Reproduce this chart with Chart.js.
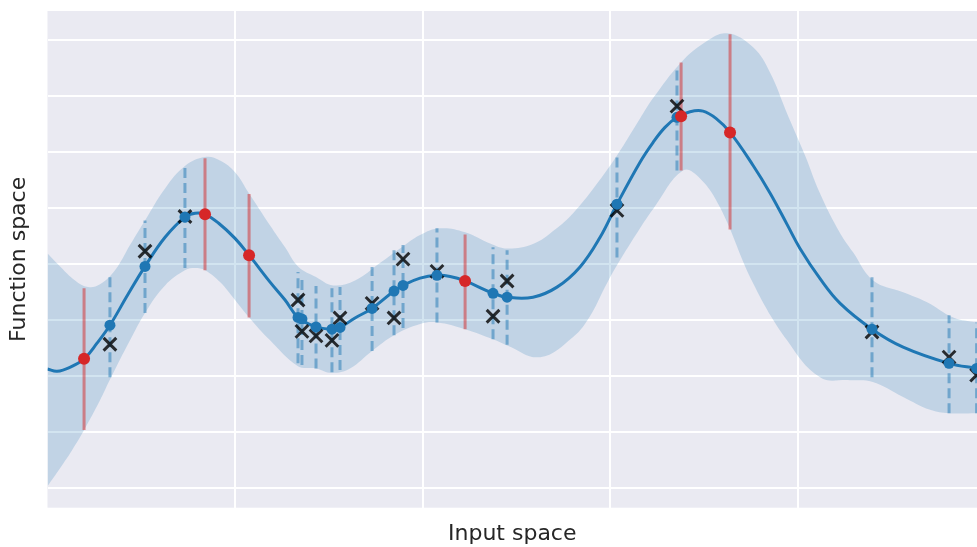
<!DOCTYPE html>
<html>
<head>
<meta charset="utf-8">
<script src="https://cdn.jsdelivr.net/npm/chart.js@4/dist/chart.umd.min.js"></script>
<style>
  html, body { margin: 0; padding: 0; background: #ffffff; }
  #gpChart { display: block; }
</style>
</head>
<body>
<canvas id="gpChart" width="977" height="547"></canvas>
<script>
const X_TICKS = [1, 2, 3, 4];
const Y_TICKS = [0, 1, 2, 3, 4, 5, 6, 7, 8];

// posterior mean
const meanX = [0, 0.051, 0.12, 0.195, 0.264, 0.333, 0.424, 0.52, 0.627, 0.733, 0.787, 0.84, 0.913, 1.0,
  1.075, 1.187, 1.267, 1.336, 1.432, 1.517, 1.56, 1.64, 1.731, 1.848, 1.896, 1.987, 2.077, 2.147, 2.227,
  2.376, 2.451, 2.589, 2.717, 2.84, 2.947, 3.037, 3.16, 3.229, 3.293, 3.357, 3.427, 3.496, 3.565, 3.64,
  3.763, 3.853, 3.944, 4.013, 4.12, 4.227, 4.397, 4.563, 4.808, 4.957];
const meanY = [2.13, 2.09, 2.16, 2.31, 2.59, 2.91, 3.43, 3.96, 4.48, 4.84, 4.91, 4.89, 4.73, 4.46,
  4.16, 3.68, 3.36, 3.05, 2.88, 2.84, 2.87, 3.04, 3.21, 3.52, 3.62, 3.75, 3.80, 3.78, 3.70,
  3.48, 3.41, 3.41, 3.59, 3.95, 4.48, 5.07, 5.82, 6.17, 6.44, 6.62, 6.72, 6.73, 6.60, 6.35,
  5.76, 5.27, 4.71, 4.28, 3.74, 3.30, 2.84, 2.52, 2.23, 2.14];

// confidence band (mean +/- 2 sigma)
const upperX = [0, 0.067, 0.147, 0.216, 0.28, 0.36, 0.44, 0.52, 0.627, 0.733, 0.84, 0.92, 1.0, 1.075,
  1.187, 1.267, 1.336, 1.432, 1.523, 1.64, 1.773, 1.88, 1.987, 2.093, 2.227, 2.36, 2.451, 2.589, 2.707,
  2.803, 2.92, 3.037, 3.16, 3.229, 3.379, 3.507, 3.624, 3.763, 3.853, 3.944, 4.04, 4.12, 4.227, 4.296,
  4.403, 4.563, 4.691, 4.83, 4.957];
const upperY = [4.19, 3.96, 3.71, 3.59, 3.64, 3.89, 4.34, 4.78, 5.35, 5.75, 5.91, 5.85, 5.64, 5.26,
  4.69, 4.30, 3.96, 3.77, 3.62, 3.71, 4.02, 4.28, 4.52, 4.64, 4.57, 4.37, 4.28, 4.36, 4.62,
  4.91, 5.39, 5.94, 6.60, 6.96, 7.60, 7.96, 8.12, 7.87, 7.42, 6.69, 5.94, 5.26, 4.55, 4.21,
  3.71, 3.50, 3.32, 3.05, 2.96];
const lowerX = [0, 0.067, 0.131, 0.195, 0.28, 0.333, 0.44, 0.52, 0.627, 0.733, 0.787, 0.84, 0.92, 1.0,
  1.075, 1.187, 1.336, 1.432, 1.517, 1.613, 1.731, 1.848, 1.987, 2.077, 2.227, 2.376, 2.451, 2.627,
  2.803, 2.893, 2.973, 3.037, 3.16, 3.229, 3.389, 3.48, 3.587, 3.763, 3.944, 4.12, 4.28, 4.397, 4.563,
  4.707, 4.808, 4.957];
const lowerY = [0.04, 0.36, 0.68, 1.04, 1.57, 1.94, 2.64, 3.13, 3.62, 3.89, 3.93, 3.89, 3.68, 3.36,
  3.05, 2.64, 2.18, 2.14, 2.06, 2.14, 2.45, 2.73, 2.93, 2.96, 2.84, 2.66, 2.55, 2.34,
  2.70, 3.07, 3.59, 3.98, 4.64, 4.98, 5.67, 5.53, 5.01, 3.66, 2.64, 1.98, 1.93, 1.90, 1.63,
  1.40, 1.34, 1.34];

// training observations
const obsX = [0.333, 0.52, 0.733, 1.336, 1.357, 1.432, 1.517, 1.56, 1.731, 1.848, 1.896, 2.077,
  2.376, 2.451, 3.037, 3.357, 4.397, 4.808, 4.955];
const obsMean = [2.91, 3.96, 4.84, 3.05, 3.02, 2.88, 2.84, 2.87, 3.21, 3.52, 3.62, 3.80,
  3.48, 3.41, 5.07, 6.62, 2.84, 2.23, 2.14];
const obsNoisy = [2.57, 4.23, 4.85, 3.36, 2.80, 2.72, 2.64, 3.04, 3.30, 3.04, 4.09, 3.87,
  3.07, 3.70, 4.96, 6.82, 2.79, 2.34, 2.02];
const obsHi = [3.80, 4.78, 5.73, 3.86, 3.79, 3.61, 3.57, 3.59, 3.95, 4.25, 4.34, 4.64,
  4.30, 4.25, 5.92, 7.46, 3.80, 3.09, 2.96];
const obsLo = [1.98, 3.13, 3.93, 2.23, 2.20, 2.14, 2.07, 2.11, 2.45, 2.73, 2.86, 2.96,
  2.66, 2.56, 4.12, 5.67, 1.98, 1.34, 1.34];

// test queries
const queryX = [0.195, 0.84, 1.075, 2.227, 3.379, 3.64];
const queryMean = [2.31, 4.89, 4.16, 3.70, 6.64, 6.35];
const queryHi = [3.57, 5.89, 5.25, 4.53, 7.60, 8.10];
const queryLo = [1.04, 3.89, 3.05, 2.84, 5.67, 4.62];

const FONT_FAMILY = "'DejaVu Sans', sans-serif";
const TEXT_COLOR = "#262626";
const BLUE = "#1f77b4";
const RED = "#d62728";

function toPoints(xs, ys) {
  return xs.map((x, i) => ({ x, y: ys[i] }));
}

// vertical segments, split by null so each one is stroked on its own
function verticalSegments(xs, los, his) {
  const pts = [];
  xs.forEach((x, i) => {
    pts.push({ x, y: los[i] }, { x, y: his[i] }, { x, y: null });
  });
  return pts;
}

const plotBackground = {
  id: "plotBackground",
  beforeDraw(chart) {
    const { ctx, chartArea } = chart;
    ctx.save();
    ctx.fillStyle = "#eaeaf2";
    ctx.fillRect(chartArea.left, chartArea.top, chartArea.right - chartArea.left, chartArea.bottom - chartArea.top);
    ctx.restore();
  }
};

function axisOptions(min, max, ticks, title, padding) {
  return {
    type: "linear",
    min,
    max,
    afterBuildTicks: (scale) => {
      scale.ticks = ticks.map((v) => ({ value: v }));
    },
    ticks: { display: false },
    grid: { color: "#ffffff", lineWidth: 2, drawTicks: false },
    border: { display: false },
    title: {
      display: true,
      text: title,
      color: TEXT_COLOR,
      font: { family: FONT_FAMILY, size: 22, lineHeight: 1.2 },
      padding
    }
  };
}

function initChart() {
  const ctx = document.getElementById("gpChart");

  new Chart(ctx, {
    type: "line",
    data: {
      datasets: [
        {
          label: "Query points",
          data: toPoints(queryX, queryMean),
          showLine: false,
          pointRadius: 6,
          pointBackgroundColor: RED,
          pointBorderWidth: 0,
          order: 0
        },
        {
          label: "Training mean",
          data: toPoints(obsX, obsMean),
          showLine: false,
          pointRadius: 5.5,
          pointBackgroundColor: BLUE,
          pointBorderWidth: 0,
          order: 1
        },
        {
          label: "Observations",
          data: toPoints(obsX, obsNoisy),
          showLine: false,
          pointStyle: "crossRot",
          pointRadius: 9,
          pointBorderWidth: 3,
          pointBorderColor: "rgba(0, 0, 0, 0.8)",
          order: 2
        },
        {
          label: "Mean",
          data: toPoints(meanX, meanY),
          borderColor: BLUE,
          borderWidth: 3,
          pointRadius: 0,
          tension: 0.4,
          fill: false,
          order: 3
        },
        {
          label: "Observation intervals",
          data: verticalSegments(obsX, obsLo, obsHi),
          borderColor: "rgba(31, 119, 180, 0.5)",
          borderWidth: 3,
          borderDash: [10, 5],
          pointRadius: 0,
          spanGaps: false,
          fill: false,
          order: 4
        },
        {
          label: "Query intervals",
          data: verticalSegments(queryX, queryLo, queryHi),
          borderColor: "rgba(214, 39, 40, 0.5)",
          borderWidth: 3,
          pointRadius: 0,
          spanGaps: false,
          fill: false,
          order: 5
        },
        {
          label: "Upper",
          data: toPoints(upperX, upperY),
          borderWidth: 0,
          borderColor: "rgba(0, 0, 0, 0)",
          backgroundColor: "rgba(31, 119, 180, 0.2)",
          pointRadius: 0,
          tension: 0.4,
          fill: "+1",
          order: 6
        },
        {
          label: "Lower",
          data: toPoints(lowerX, lowerY),
          borderWidth: 0,
          borderColor: "rgba(0, 0, 0, 0)",
          pointRadius: 0,
          tension: 0.4,
          fill: false,
          order: 7
        }
      ]
    },
    options: {
      responsive: false,
      animation: false,
      events: [],
      layout: {
        autoPadding: false,
        padding: { top: 11, right: 0, bottom: 0, left: 0 }
      },
      plugins: {
        legend: { display: false },
        tooltip: { enabled: false }
      },
      scales: {
        x: axisOptions(0, 4.957, X_TICKS, "Input space", { top: 12.9, bottom: 0 }),
        y: axisOptions(-0.346, 8.517, Y_TICKS, "Function space", { top: 5.8, bottom: 15.3 })
      }
    },
    plugins: [plotBackground]
  });
}

document.addEventListener("DOMContentLoaded", initChart);
</script>
</body>
</html>
